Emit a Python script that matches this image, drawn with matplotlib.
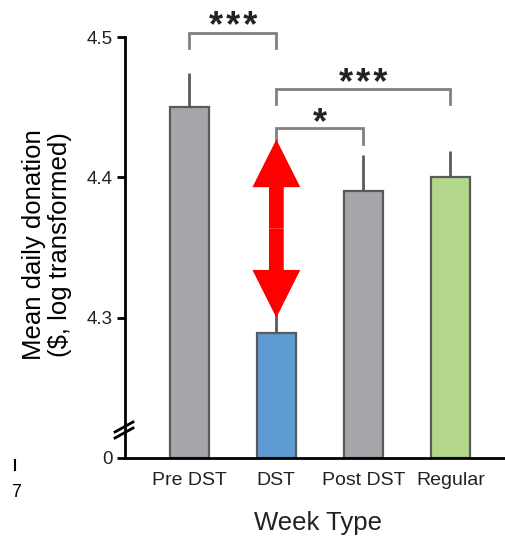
import numpy as np
import matplotlib.pyplot as plt
from matplotlib.patches import FancyArrow
from matplotlib.lines import Line2D

plt.rcParams['font.family'] = ['Liberation Sans', 'DejaVu Sans']

# data (axis is broken: bottom "0" sits at 4.2)
weeks = ['Pre DST', 'DST', 'Post DST', 'Regular']
means = [4.450, 4.289, 4.390, 4.400]
errs = [0.024, 0.022, 0.026, 0.019]
colors = ['#a6a6aa', '#5e9bd2', '#a6a6aa', '#b3d78b']
base = 4.2
ytick_vals = [4.2, 4.3, 4.4, 4.5]
ytick_labels = ['0', '4.3', '4.4', '4.5']

# significance brackets: (left bar, right bar, bracket top, stars)
sig = [(0, 1, 4.503, '***'),
       (1, 3, 4.463, '***'),
       (1, 2, 4.435, '*')]

arrow_top = 4.427
arrow_bottom = 4.300

W, H = 506, 536
fig = plt.figure(figsize=(W / 100, H / 100), dpi=100)
ax = fig.add_axes([125 / W, (H - 458) / H, 381 / W, (458 - 37) / H])

x = np.arange(len(weeks))
heights = [m - base for m in means]
ax.bar(x, heights, bottom=base, width=0.45, color=colors,
       edgecolor='#5a5a5a', linewidth=1.6, zorder=2)
ax.errorbar(x, means, yerr=[np.zeros(len(errs)), errs], fmt='none',
            ecolor='#5a5a5a', elinewidth=2, capsize=0, zorder=1)

ax.set_xlim(-0.74, 3.64)
ax.set_ylim(base, 4.5)
ax.set_xticks(x)
ax.set_xticklabels(weeks, fontsize=14)
ax.set_yticks(ytick_vals)
ax.set_yticklabels(ytick_labels, fontsize=13.5)
ax.tick_params(axis='x', length=0, pad=10)
ax.tick_params(axis='y', length=6, width=2, pad=3)
for lab in ax.get_xticklabels() + ax.get_yticklabels():
    lab.set_color('#222222')
for s in ['top', 'right']:
    ax.spines[s].set_visible(False)
ax.spines['left'].set_linewidth(2)
ax.spines['bottom'].set_linewidth(2)

# brackets
for i, j, top, stars in sig:
    leg = top - 0.011
    ax.plot([i, i, j, j], [leg, top, top, leg], color='#808080', lw=2,
            clip_on=False, solid_joinstyle='miter')
    ax.text((i + j) / 2, top - 0.009, '\u200a'.join(stars), ha='center',
            va='bottom', fontsize=26, fontweight='bold', color='#222222',
            clip_on=False)

# red double arrow over the DST bar
mid = (arrow_top + arrow_bottom) / 2
half = arrow_top - mid
for d in (half, -half):
    ax.add_patch(FancyArrow(1, mid, 0, d, width=0.17, head_width=0.55,
                            head_length=0.034, length_includes_head=True,
                            color='#ff0000', lw=0, zorder=5))

# axis break marks
for dy in (0, 6):
    fig.add_artist(Line2D([115 / W, 133 / W],
                          [(H - 438 + dy) / H, (H - 428 + dy) / H],
                          color='black', lw=2))

fig.text(47 / W, 1 - 245 / H, 'Mean daily donation\n($, log transformed)',
         rotation=90, ha='center', va='center', fontsize=18.5, linespacing=1.1)
fig.text(318 / W, 6 / H, 'Week Type', ha='center', va='baseline',
         fontsize=18.5, color='#222222')

# stray marks from neighbouring panel
fig.add_artist(Line2D([15 / W, 15 / W], [(H - 460) / H, (H - 470) / H],
                      color='black', lw=1.5))
fig.text(16 / W, (H - 497) / H, '7', ha='center', va='baseline', fontsize=13)

fig.savefig('out.png', dpi=100)
